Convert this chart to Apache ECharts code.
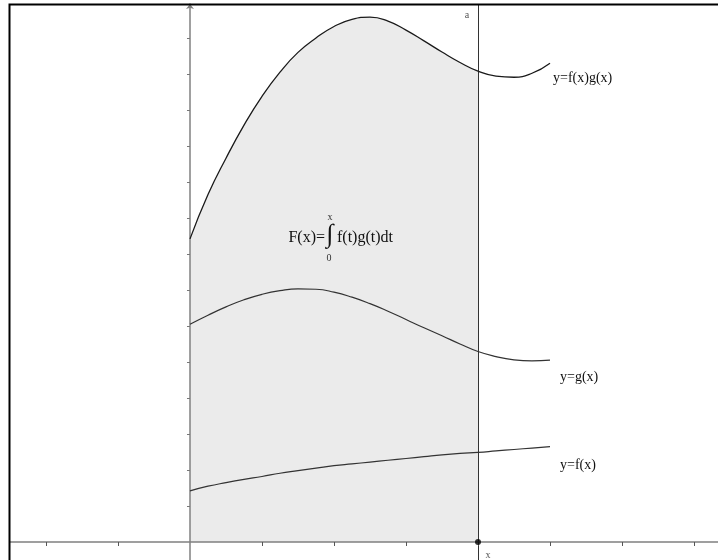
<!DOCTYPE html>
<html><head><meta charset="utf-8">
<script src="https://cdn.jsdelivr.net/npm/echarts@6/dist/echarts.min.js"></script>
<style>html,body{margin:0;padding:0;background:#fff}#c{width:718px;height:560px}</style>
</head><body><div id="c"></div>
<script>
// sample positions along x
const xs     = [0, 0.5, 1, 1.5, 2, 2.5, 3, 3.5, 4, 4.5, 5, 5.5, 6, 6.5, 7, 7.5, 8, 8.5, 9, 9.5, 10];
// y = f(x)
const fVals  = [1.42, 1.55, 1.65, 1.74, 1.82, 1.91, 1.98, 2.05, 2.12, 2.17, 2.22, 2.27, 2.32, 2.37, 2.42, 2.46, 2.49, 2.53, 2.57, 2.61, 2.65];
// y = g(x)
const gVals  = [6.05, 6.30, 6.53, 6.73, 6.88, 6.98, 7.03, 7.02, 6.94, 6.80, 6.62, 6.41, 6.18, 5.95, 5.73, 5.50, 5.29, 5.15, 5.06, 5.03, 5.05];
// y = f(x)g(x)
const fgVals = [8.42, 9.65, 10.66, 11.58, 12.38, 13.05, 13.60, 14.00, 14.32, 14.52, 14.58, 14.47, 14.22, 13.92, 13.61, 13.32, 13.08, 12.94, 12.91, 13.02, 13.30];
// upper limit of the shaded integral
const upperX = 8;
// axis ticks
const xMajorTicks = [-4, -2, 2, 4, 6, 8, 10, 12, 14];
const xMinorTicks = [-3, -1, 1, 3, 5, 7, 9, 11, 13];
const yTicks = [1, 2, 3, 4, 5, 6, 7, 8, 9, 10, 11, 12, 13, 14];
// texts
const curveNames = ['y=f(x)g(x)', 'y=g(x)', 'y=f(x)'];
const lineLabel = 'a';
const pointLabel = 'x';
const formulaLeft = 'F(x)=';
const formulaRight = 'f(t)g(t)dt';
const formulaUpper = 'x';
const formulaLower = '0';

const pairs = vals => xs.map((x, i) => [x, vals[i]]);
const areaData = xs.map((x, i) => [x, fgVals[i]]).filter(p => p[0] <= upperX);

const serif = "'Liberation Serif','DejaVu Serif',serif";
const axisCol = '#808080';

const chart = echarts.init(document.getElementById('c'), null, {renderer: 'canvas'});
const X0 = -5, X1 = 14.6667, Y0 = -0.5, Y1 = 14.944;
const SM = 0.5;

const baseX = {
  type: 'value', min: X0, max: X1, position: 'bottom',
  axisLine: {show: true, onZero: true, lineStyle: {color: axisCol, width: 1.5}},
  axisLabel: {show: false}, splitLine: {show: false}
};

const option = {
  animation: false,
  backgroundColor: '#fff',
  grid: {left: 10, right: 0, top: 4, bottom: 0, containLabel: false, outerBoundsMode: 'none'},
  xAxis: [
    Object.assign({}, baseX, {
      z: 5,
      axisTick: {show: true, length: 4, customValues: xMajorTicks, lineStyle: {color: '#555', width: 1}}
    }),
    Object.assign({}, baseX, {
      z: 5,
      axisLine: {show: false, onZero: true},
      axisTick: {show: true, length: 2, customValues: xMinorTicks, lineStyle: {color: '#777', width: 1}}
    })
  ],
  yAxis: {
    type: 'value', min: Y0, max: Y1, position: 'left', z: 5,
    axisLine: {show: true, onZero: true, symbol: ['none', 'arrow'], symbolSize: [6, 5], lineStyle: {color: axisCol, width: 1.5}},
    axisTick: {show: true, length: 3, customValues: yTicks, lineStyle: {color: '#777', width: 1}},
    axisLabel: {show: false}, splitLine: {show: false}
  },
  series: [
    {
      type: 'line', data: areaData, smooth: SM, symbol: 'none', z: 1,
      lineStyle: {width: 0, opacity: 0},
      areaStyle: {color: '#ebebeb', opacity: 1, origin: 'auto'},
      silent: true
    },
    {
      type: 'line', name: curveNames[0], data: pairs(fgVals), smooth: SM, symbol: 'none', z: 6,
      lineStyle: {color: '#1a1a1a', width: 1.3},
      markLine: {
        silent: true, symbol: 'none', label: {show: false},
        lineStyle: {color: '#333', width: 1, type: 'solid'},
        data: [{xAxis: upperX}]
      }
    },
    {
      type: 'line', name: curveNames[1], data: pairs(gVals), smooth: SM, symbol: 'none', z: 6,
      lineStyle: {color: '#333', width: 1.2}
    },
    {
      type: 'line', name: curveNames[2], data: pairs(fVals), smooth: SM, symbol: 'none', z: 6,
      lineStyle: {color: '#333', width: 1.2}
    },
    {
      type: 'scatter', data: [[upperX, 0]], symbolSize: 6, z: 7,
      itemStyle: {color: '#000'}
    }
  ],
  graphic: [
    {type: 'rect', shape: {x: 9.5, y: 4.5, width: 800, height: 700}, style: {fill: 'none', stroke: '#000', lineWidth: 2}, z: 100},
    {type: 'text', x: 553, y: 78, style: {text: curveNames[0], font: '14px ' + serif, fill: '#111', textVerticalAlign: 'middle'}, z: 100},
    {type: 'text', x: 560, y: 377, style: {text: curveNames[1], font: '14px ' + serif, fill: '#111', textVerticalAlign: 'middle'}, z: 100},
    {type: 'text', x: 560, y: 465, style: {text: curveNames[2], font: '14px ' + serif, fill: '#111', textVerticalAlign: 'middle'}, z: 100},
    {type: 'text', x: 467, y: 15, style: {text: lineLabel, font: '10px ' + serif, fill: '#555', textAlign: 'center', textVerticalAlign: 'middle'}, z: 100},
    {type: 'text', x: 488, y: 555, style: {text: pointLabel, font: '10px ' + serif, fill: '#555', textAlign: 'center', textVerticalAlign: 'middle'}, z: 100},
    {type: 'text', x: 325, y: 238, style: {text: formulaLeft, font: '16px ' + serif, fill: '#111', textAlign: 'right', textVerticalAlign: 'middle'}, z: 100},
    {type: 'text', x: 330, y: 235, style: {text: '\u222B', font: '26px ' + serif, fill: '#111', textAlign: 'center', textVerticalAlign: 'middle'}, z: 100},
    {type: 'text', x: 330, y: 217, style: {text: formulaUpper, font: '10px ' + serif, fill: '#333', textAlign: 'center', textVerticalAlign: 'middle'}, z: 100},
    {type: 'text', x: 329, y: 258, style: {text: formulaLower, font: '10px ' + serif, fill: '#333', textAlign: 'center', textVerticalAlign: 'middle'}, z: 100},
    {type: 'text', x: 337, y: 238, style: {text: formulaRight, font: '16px ' + serif, fill: '#111', textVerticalAlign: 'middle'}, z: 100}
  ]
};
chart.setOption(option);
</script>
</body></html>
